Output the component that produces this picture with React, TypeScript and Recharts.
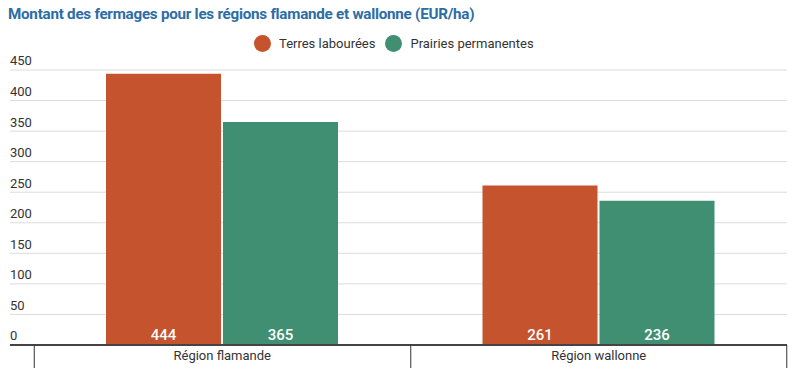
import { BarChart, Bar, XAxis, YAxis, CartesianGrid, LabelList } from "recharts";

const regions = ["Région flamande", "Région wallonne"];
const terresLabourees = [444, 261];
const prairiesPermanentes = [365, 236];
const yTicks = [0, 50, 100, 150, 200, 250, 300, 350, 400, 450];

const ORANGE = "#c5532d";
const GREEN = "#418f72";
const FONT = "Roboto, 'Noto Sans', sans-serif";

const data = regions.map((region, i) => ({
  region,
  terres: terresLabourees[i],
  prairies: prairiesPermanentes[i],
}));

// y labels sit above their gridline, flush left
const YTick = (props: any) => {
  const { y, payload } = props;
  return (
    <text x={10} y={y - 8} textAnchor="start" dominantBaseline="middle" fontSize={13} fill="#333" fontFamily={FONT}>
      {payload.value}
    </text>
  );
};

// category label plus separator lines at band edges
const XTick = (props: any) => {
  const { x, y, payload, index, visibleTicksCount } = props;
  const half = 188;
  return (
    <g>
      <line x1={x - half} x2={x - half} y1={y - 8} y2={y + 15} stroke="#333" strokeWidth={1} />
      {index === visibleTicksCount - 1 && (
        <line x1={x + half} x2={x + half} y1={y - 8} y2={y + 15} stroke="#333" strokeWidth={1} />
      )}
      <text x={x} y={y + 4} textAnchor="middle" dominantBaseline="middle" fontSize={13} fill="#333" fontFamily={FONT}>
        {payload.value}
      </text>
    </g>
  );
};

const LegendItem = ({ color, label }: { color: string; label: string }) => (
  <div style={{ display: "flex", alignItems: "center", gap: 8 }}>
    <div style={{ width: 17, height: 17, borderRadius: "50%", background: color }} />
    <span>{label}</span>
  </div>
);

const App = () => {
  return (
    <div style={{ position: "absolute", left: 0, top: 0, width: 797, height: 377, background: "#fff", fontFamily: FONT }}>
      <div style={{ position: "absolute", left: 8, top: 5, fontSize: 15.2, letterSpacing: -0.25, fontWeight: 700, color: "#2c6da6" }}>
        Montant des fermages pour les régions flamande et wallonne (EUR/ha)
      </div>
      <div style={{ position: "absolute", left: 254, top: 35, display: "flex", gap: 10, fontSize: 13, color: "#333" }}>
        <LegendItem color={ORANGE} label="Terres labourées" />
        <LegendItem color={GREEN} label="Prairies permanentes" />
      </div>
      <BarChart
        width={797}
        height={377}
        data={data}
        margin={{ top: 70, right: 10, bottom: 8, left: 9 }}
        barGap={2}
        barSize={115}
      >
        <CartesianGrid vertical={false} stroke="#dcdcdc" />
        <XAxis
          dataKey="region"
          padding={{ left: 24, right: 0 }}
          height={24}
          tickLine={false}
          axisLine={{ stroke: "#444", strokeWidth: 2 }}
          tick={<XTick />}
          interval={0}
        />
        <YAxis
          width={1}
          domain={[0, 450]}
          ticks={yTicks}
          axisLine={false}
          tickLine={false}
          tick={<YTick />}
          interval={0}
        />
        <Bar dataKey="terres" fill={ORANGE} isAnimationActive={false}>
          <LabelList dataKey="terres" position="insideBottom" offset={5} fill="#fff" fontSize={15} fontWeight={500} fontFamily={FONT} />
        </Bar>
        <Bar dataKey="prairies" fill={GREEN} isAnimationActive={false}>
          <LabelList dataKey="prairies" position="insideBottom" offset={5} fill="#fff" fontSize={15} fontWeight={500} fontFamily={FONT} />
        </Bar>
      </BarChart>
    </div>
  );
};

export default App;
